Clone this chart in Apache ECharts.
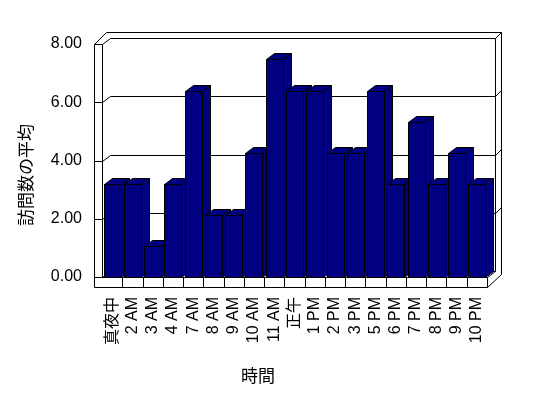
<!DOCTYPE html>
<html>
<head>
<meta charset="utf-8">
<script src="https://cdn.jsdelivr.net/npm/echarts@6/dist/echarts.min.js"></script>
<style>
  html, body { margin: 0; padding: 0; background: #fff }
  #chart { width: 548px; height: 398px }
</style>
</head>
<body>
<div id="chart"></div>
<script>
const hours = ['真夜中', '2 AM', '3 AM', '4 AM', '7 AM', '8 AM', '9 AM', '10 AM', '11 AM', '正午',
  '1 PM', '2 PM', '3 PM', '5 PM', '6 PM', '7 PM', '8 PM', '9 PM', '10 PM']
const visits = [3.2, 3.2, 1.07, 3.2, 6.4, 2.13, 2.13, 4.27, 7.47, 6.4,
  6.4, 4.27, 4.27, 6.4, 3.2, 5.33, 3.2, 4.27, 3.2]
const yTicks = [0, 2, 4, 6, 8]

// fake 3D box, excel style
const DX = 8, DY = -6
const WALL = 8, FLOOR = 10, BACK = 6
const NAVY = '#000080'
const FONT = "'Liberation Sans', 'Noto Sans CJK JP', sans-serif"

const px = (v) => Math.round(v) + 0.5
const pt = (x, y) => [px(x), px(y)]
const line = (pts) => ({
  type: 'polyline',
  shape: { points: pts },
  style: { stroke: '#000', lineWidth: 1, fill: null }
})
const face = (pts) => ({
  type: 'polygon',
  shape: { points: pts },
  style: { fill: NAVY, stroke: '#000', lineWidth: 1 }
})

const renderFrame = (params, api) => {
  const cs = params.coordSys
  const x0 = cs.x, x1 = cs.x + cs.width, y0 = cs.y, y1 = cs.y + cs.height
  const bx1 = x1 + DX, by0 = y0 + DY, by1 = y1 + DY
  const band = cs.width / hours.length
  const kids = [
    // outer outline
    line([pt(x0 - WALL, y1 + FLOOR), pt(x0 - WALL, y0), pt(x0 + 4, by0 - BACK), pt(bx1 + BACK, by0 - BACK),
      pt(bx1 + BACK, by1 + 3), pt(x1, y1 + FLOOR), pt(x0 - WALL, y1 + FLOOR)]),
    line([pt(x0, y1), pt(x0, y0)]),
    line([pt(x0, y1), pt(x1, y1), pt(x1, y1 + FLOOR)]),
    line([pt(x1, y1), pt(bx1, by1)]),
    line([pt(bx1, by0), pt(bx1, by1)]),
    line([pt(bx1, by0), pt(bx1 + BACK, by0 - BACK)])
  ]
  yTicks.forEach(t => {
    const yf = api.coord([0, t])[1]
    kids.push(line([pt(x0 - WALL, yf), pt(x0, yf), pt(x0 + DX, yf + DY), pt(bx1, yf + DY)]))
    if (t > 0 && t < 8) kids.push(line([pt(bx1, yf + DY), pt(bx1 + BACK, yf + DY - BACK)]))
  })
  for (let i = 1; i < hours.length; i++) {
    const x = x0 + band * i
    kids.push(line([pt(x, y1), pt(x, y1 + FLOOR)]))
  }
  return { type: 'group', children: kids }
}

const renderBar = (params, api) => {
  const top = api.coord([api.value(0), api.value(1)])
  const base = api.coord([api.value(0), 0])
  const w = api.size([1, 0])[0] * 0.84
  const l = px(top[0] - w / 2), r = px(top[0] + w / 2)
  const t = px(top[1]), b = px(base[1])
  return {
    type: 'group',
    children: [
      face([[l, t], [r, t], [r, b], [l, b]]),
      face([[l, t], [l + DX, t + DY], [r + DX, t + DY], [r, t]]),
      face([[r, t], [r + DX, t + DY], [r + DX, b + DY], [r, b]])
    ]
  }
}

const chart = echarts.init(document.getElementById('chart'), null, { renderer: 'canvas' })

chart.setOption({
  backgroundColor: '#fff',
  animation: false,
  grid: { left: 102, right: 61, top: 44, bottom: 121 },
  xAxis: {
    type: 'category',
    data: hours,
    axisLine: { show: false },
    axisTick: { show: false },
    axisLabel: { rotate: 90, margin: 20, interval: 0, fontSize: 16, color: '#000', fontFamily: FONT },
    name: '時間',
    nameLocation: 'middle',
    nameGap: 92,
    nameTextStyle: { fontSize: 17, color: '#000', fontFamily: FONT, padding: [0, 73, 0, 0] }
  },
  yAxis: {
    type: 'value',
    min: 0,
    max: 8,
    interval: 2,
    axisLine: { show: false },
    axisTick: { show: false },
    splitLine: { show: false },
    axisLabel: { margin: 20, fontSize: 16, color: '#000', fontFamily: FONT, formatter: (v) => v.toFixed(2) },
    name: '訪問数の平均',
    nameLocation: 'middle',
    nameRotate: 90,
    nameGap: 66,
    nameTextStyle: { fontSize: 17, color: '#000', fontFamily: FONT, padding: [0, 29, 0, 0] }
  },
  series: [
    { type: 'custom', z: 1, silent: true, renderItem: renderFrame, data: [[0, 0]] },
    { type: 'custom', z: 2, renderItem: renderBar, encode: { x: 0, y: 1 }, data: visits.map((v, i) => [i, v]) }
  ]
})
</script>
</body>
</html>
